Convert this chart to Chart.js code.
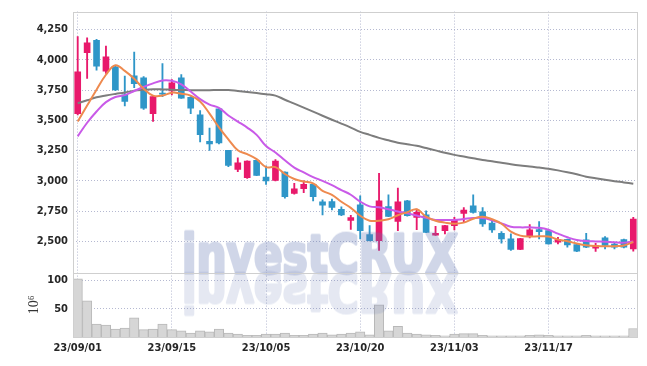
<!DOCTYPE html>
<html>
<head>
<meta charset="utf-8">
<script src="https://cdn.jsdelivr.net/npm/chart.js@4/dist/chart.umd.min.js"></script>
<style>
  html, body { margin: 0; padding: 0; background: #fff; }
  #wrap { width: 647px; height: 366px; position: relative; }
</style>
</head>
<body>
<div id="wrap"><canvas id="myChart"></canvas></div>
<script>
// trading days shown on the x axis
const dates = [
  '23/09/01','23/09/04','23/09/05','23/09/06','23/09/07','23/09/08','23/09/11','23/09/12','23/09/13','23/09/14',
  '23/09/15','23/09/18','23/09/19','23/09/20','23/09/21','23/09/22','23/09/25','23/09/26','23/09/27','23/10/04',
  '23/10/05','23/10/06','23/10/10','23/10/11','23/10/12','23/10/13','23/10/16','23/10/17','23/10/18','23/10/19',
  '23/10/20','23/10/23','23/10/24','23/10/25','23/10/26','23/10/27','23/10/30','23/10/31','23/11/01','23/11/02',
  '23/11/03','23/11/06','23/11/07','23/11/08','23/11/09','23/11/10','23/11/13','23/11/14','23/11/15','23/11/16',
  '23/11/17','23/11/20','23/11/21','23/11/22','23/11/23','23/11/24','23/11/27','23/11/28','23/11/29','23/11/30'
];

const openPrice = [
  3554,4058,4160,3906,3941,3710,3868,3851,3554,3725,
  3742,3851,3690,3546,3327,3595,3253,3095,3027,3169,
  3032,3005,3073,2896,2936,2972,2828,2830,2765,2675,
  2803,2557,2508,2789,2666,2836,2699,2721,2552,2590,
  2631,2732,2795,2746,2653,2568,2522,2434,2543,2598,
  2590,2494,2519,2475,2514,2445,2530,2478,2516,2440
];
const highPrice = [
  4190,4181,4168,4113,3949,3866,4064,3860,3700,3968,
  3837,3878,3696,3581,3436,3597,3253,3190,3165,3172,
  3122,3177,3075,2981,3000,2975,2844,2850,2787,2716,
  2877,2631,3063,2885,2940,2840,2768,2754,2625,2633,
  2699,2781,2885,2781,2672,2582,2563,2527,2639,2664,
  2594,2535,2521,2478,2568,2486,2541,2494,2520,2699
];
const lowPrice = [
  3545,3845,3914,3886,3745,3618,3769,3590,3491,3696,
  3709,3680,3554,3321,3251,3305,3117,3076,3020,3044,
  2972,3000,2858,2891,2904,2836,2719,2760,2713,2600,
  2522,2505,2426,2705,2590,2710,2598,2574,2550,2563,
  2596,2658,2735,2625,2576,2486,2426,2432,2530,2522,
  2478,2481,2453,2417,2450,2418,2440,2440,2448,2421
];
const closePrice = [
  3900,4140,3947,4023,3750,3655,3802,3600,3696,3715,
  3810,3682,3600,3382,3305,3313,3128,3149,3163,3046,
  3000,3163,2871,2934,2972,2871,2800,2781,2719,2697,
  2590,2508,2836,2707,2828,2713,2740,2576,2568,2631,
  2678,2760,2740,2645,2596,2522,2434,2525,2596,2582,
  2481,2516,2473,2421,2453,2467,2467,2453,2453,2686
];

// moving average lines as drawn in the picture
const maShort = [
  3491,3622,3753,3876,3954,3908,3843,3761,3704,3704,
  3728,3720,3704,3655,3556,3442,3343,3253,3221,3180,
  3114,3114,3057,3016,2995,2979,2918,2885,2828,2778,
  2713,2672,2672,2684,2717,2742,2766,2705,2672,2656,
  2647,2656,2688,2705,2684,2647,2582,2549,2541,2543,
  2541,2516,2502,2484,2470,2463,2462,2462,2467,2496
];
const maMid = [
  3368,3480,3573,3650,3692,3708,3742,3775,3805,3829,
  3826,3797,3738,3675,3630,3603,3540,3490,3440,3380,
  3288,3235,3170,3110,3070,3032,3000,2965,2925,2886,
  2830,2790,2782,2766,2748,2733,2714,2695,2678,2678,
  2678,2686,2694,2694,2676,2650,2622,2617,2617,2613,
  2597,2565,2535,2512,2504,2501,2499,2494,2491,2501
];
const maLong = [
  3641,3665,3690,3705,3718,3730,3745,3752,3756,3755,
  3752,3750,3749,3748,3749,3751,3750,3742,3734,3725,
  3715,3704,3670,3638,3605,3572,3538,3505,3473,3440,
  3405,3380,3355,3335,3315,3302,3290,3271,3252,3232,
  3215,3201,3187,3172,3162,3150,3138,3128,3120,3110,
  3100,3087,3072,3055,3035,3022,3010,2998,2988,2977
];

// volume in millions
const volume = [
  103,64,23,21,14,16,34,13,14,23,
  13,11,7,11,9,14,7,5,3,3,
  5,5,7,3,3,5,7,4,5,7,
  9,4,57,11,19,7,5,4,3,2,
  5,6,6,3,2,2,2,2,3,4,
  3,2,2,2,3,2,2,2,2,15
];

const priceTicks = [2500, 2750, 3000, 3250, 3500, 3750, 4000, 4250];
const volumeTicks = [50, 100];
const dateTicks = ['23/09/01', '23/09/15', '23/10/05', '23/10/20', '23/11/03', '23/11/17'];

const upColor = '#e8196b';
const downColor = '#2f96c8';
const gridColor = 'rgba(150,155,190,0.7)';
const tickFont = { family: "'DejaVu Sans Condensed', 'DejaVu Sans', sans-serif", size: 11, weight: 'bold' };
const tickColor = '#262626';

let bodies = openPrice.map((o, i) => [Math.min(o, closePrice[i]), Math.max(o, closePrice[i])]);
let wicks = lowPrice.map((l, i) => [l, highPrice[i]]);
let candleColor = ctx => closePrice[ctx.dataIndex] >= openPrice[ctx.dataIndex] ? upColor : downColor;

// outer frame and the line between price and volume panes
const framePlugin = {
    id: 'framePlugin',
    afterDraw(chart) {
        const { ctx, chartArea: a } = chart;
        const sep = Math.round(chart.scales.y.bottom) + 0.5;
        ctx.save();
        ctx.strokeStyle = '#cfcfcf';
        ctx.lineWidth = 1;
        ctx.strokeRect(Math.round(a.left) + 0.5, Math.round(a.top) + 0.5,
            Math.round(a.right - a.left) - 1, Math.round(a.bottom - a.top));
        ctx.beginPath();
        ctx.moveTo(a.left, sep);
        ctx.lineTo(a.right, sep);
        ctx.stroke();
        ctx.restore();
    }
};

// investCRUX watermark with its reflection, drawn once on a small canvas
let markCanvas = null;
function buildMark() {
    const text = 'investCRUX';
    const off = document.createElement('canvas');
    off.width = 300;
    off.height = 70;
    const c = off.getContext('2d');
    c.font = "bold 54px 'DejaVu Sans Condensed', 'DejaVu Sans', sans-serif";
    const sx = 276 / c.measureText(text).width;
    c.translate(3, 56);
    c.scale(sx, 1);
    c.fillStyle = 'rgb(100,120,180)';
    c.strokeStyle = 'rgb(100,120,180)';
    c.lineWidth = 3;
    c.lineJoin = 'round';
    c.strokeText(text, 0, 0);
    c.fillText(text, 0, 0);
    return off;
}

const watermarkPlugin = {
    id: 'watermarkPlugin',
    afterDatasetsDraw(chart) {
        const { ctx } = chart;
        if (!markCanvas) markCanvas = buildMark();
        const baseY = chart.scales.y.bottom;
        const x0 = 179;
        ctx.save();
        ctx.globalAlpha = 0.3;
        ctx.drawImage(markCanvas, x0, baseY - 56);
        ctx.restore();
        ctx.save();
        ctx.translate(x0, baseY + 1);
        ctx.scale(1, -1);
        ctx.globalAlpha = 0.17;
        ctx.drawImage(markCanvas, 0, -56);
        ctx.restore();
    }
};

let myChart = new Chart(document.getElementById('myChart'), {
    data: {
        labels: dates,
        datasets: [
            { type: 'line', data: maShort, borderColor: '#ee8a4f', borderWidth: 2, pointRadius: 0, tension: 0.4, yAxisID: 'y', order: 0 },
            { type: 'line', data: maMid, borderColor: '#c95ae8', borderWidth: 2, pointRadius: 0, tension: 0.4, yAxisID: 'y', order: 0 },
            { type: 'line', data: maLong, borderColor: '#7d7d7d', borderWidth: 2, pointRadius: 0, tension: 0.4, yAxisID: 'y', order: 0 },
            { type: 'bar', data: bodies, backgroundColor: candleColor, barThickness: 6, grouped: false, yAxisID: 'y', order: 1 },
            { type: 'bar', data: wicks, backgroundColor: candleColor, barThickness: 1.2, grouped: false, yAxisID: 'y', order: 2 },
            { type: 'bar', data: volume, backgroundColor: '#d6d6d6', borderColor: '#b8b8b8', borderWidth: 1,
              barPercentage: 1, categoryPercentage: 1, grouped: false, yAxisID: 'yv', order: 3 }
        ]
    },
    options: {
        responsive: true,
        maintainAspectRatio: false,
        animation: false,
        layout: { padding: { top: 9, right: 9, bottom: 0, left: 0 } },
        plugins: { legend: { display: false }, tooltip: { enabled: false } },
        scales: {
            x: {
                type: 'category',
                offset: true,
                afterBuildTicks: s => { s.ticks = s.ticks.filter(t => dateTicks.includes(dates[t.value])); },
                afterFit: s => { s.height = 29; },
                ticks: { autoSkip: false, maxRotation: 0, padding: 5, font: tickFont, color: tickColor },
                grid: { offset: false, drawTicks: false, color: gridColor },
                border: { display: false, dash: [1, 2] }
            },
            yv: {
                position: 'left',
                stack: 'panes',
                stackWeight: 1,
                min: 0,
                max: 114,
                afterBuildTicks: s => { s.ticks = volumeTicks.map(v => ({ value: v })); },
                afterFit: s => { s.width = 73; },
                ticks: { padding: 5, font: tickFont, color: tickColor },
                grid: { drawTicks: false, color: gridColor },
                border: { display: false, dash: [1, 2] },
                title: { display: true, text: '10⁶', color: '#333', font: { family: "'Liberation Serif', serif", size: 14 }, padding: { top: 26, bottom: 0 } }
            },
            y: {
                position: 'left',
                stack: 'panes',
                stackWeight: 4.05,
                min: 2244,
                max: 4397,
                afterBuildTicks: s => { s.ticks = priceTicks.map(v => ({ value: v })); },
                afterFit: s => { s.width = 73; },
                ticks: { padding: 5, font: tickFont, color: tickColor, callback: v => v.toLocaleString('en-US') },
                grid: { drawTicks: false, color: gridColor },
                border: { display: false, dash: [1, 2] }
            }
        }
    },
    plugins: [framePlugin, watermarkPlugin]
});
</script>
</body>
</html>
